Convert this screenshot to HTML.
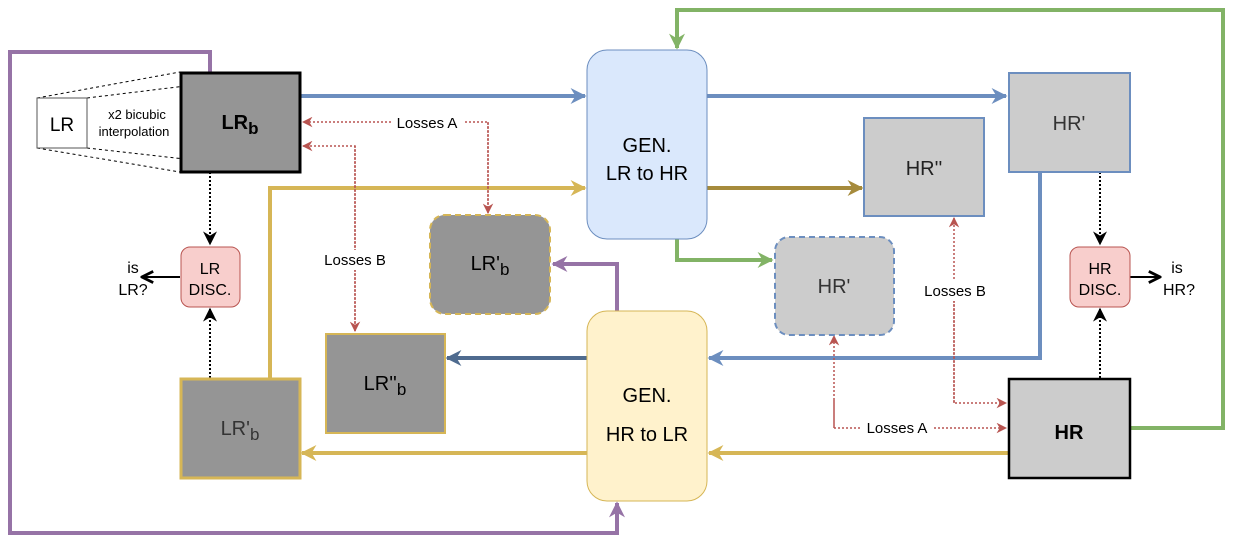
<!DOCTYPE html>
<html><head><meta charset="utf-8"><style>
html,body{margin:0;padding:0;background:#fff;}
svg{display:block;font-family:"Liberation Sans",Arial,sans-serif;}
</style></head><body>
<svg width="1236" height="546" viewBox="0 0 1236 546" xmlns="http://www.w3.org/2000/svg">
<defs>
<marker id="aB" viewBox="0 0 10 10" refX="9" refY="5" markerWidth="4" markerHeight="4" orient="auto"><path d="M0,0 L10,5 L0,10 L3,5 Z" fill="#6c8ebf"/></marker>
<marker id="aY" viewBox="0 0 10 10" refX="9" refY="5" markerWidth="4" markerHeight="4" orient="auto"><path d="M0,0 L10,5 L0,10 L3,5 Z" fill="#d6b656"/></marker>
<marker id="aO" viewBox="0 0 10 10" refX="9" refY="5" markerWidth="4" markerHeight="4" orient="auto"><path d="M0,0 L10,5 L0,10 L3,5 Z" fill="#a68b3c"/></marker>
<marker id="aG" viewBox="0 0 10 10" refX="9" refY="5" markerWidth="4" markerHeight="4" orient="auto"><path d="M0,0 L10,5 L0,10 L3,5 Z" fill="#82b366"/></marker>
<marker id="aP" viewBox="0 0 10 10" refX="9" refY="5" markerWidth="4" markerHeight="4" orient="auto"><path d="M0,0 L10,5 L0,10 L3,5 Z" fill="#9673a6"/></marker>
<marker id="aD" viewBox="0 0 10 10" refX="9" refY="5" markerWidth="4" markerHeight="4" orient="auto"><path d="M0,0 L10,5 L0,10 L3,5 Z" fill="#4f6b8f"/></marker>
<marker id="aR" viewBox="0 0 10 10" refX="9" refY="5" markerWidth="7" markerHeight="7" orient="auto"><path d="M0,0 L10,5 L0,10 L3,5 Z" fill="#b85450"/></marker>
<marker id="aK" viewBox="0 0 10 10" refX="9" refY="5" markerWidth="7" markerHeight="7" orient="auto"><path d="M0,0 L10,5 L0,10 L3,5 Z" fill="#000"/></marker>
<marker id="aK2" viewBox="0 0 10 10" refX="9" refY="5" markerWidth="7" markerHeight="7" orient="auto"><path d="M1,1 L9,5 L1,9" fill="none" stroke="#000" stroke-width="2"/></marker>
</defs>

<!-- purple loop -->
<polyline points="210,72 210,52 10,52 10,533 617,533 617,503" fill="none" stroke="#9673a6" stroke-width="4" marker-end="url(#aP)"/>
<polyline points="617,311 617,264 553,264" fill="none" stroke="#9673a6" stroke-width="4" marker-end="url(#aP)"/>
<!-- green loop -->
<polyline points="1130,428 1223,428 1223,10 677,10 677,48" fill="none" stroke="#82b366" stroke-width="4" marker-end="url(#aG)"/>
<polyline points="677,238 677,260 772,260" fill="none" stroke="#82b366" stroke-width="4" marker-end="url(#aG)"/>

<!-- dashed projection lines -->
<g stroke="#000" stroke-width="1" stroke-dasharray="3,3">
<line x1="37" y1="98" x2="180" y2="72"/>
<line x1="87" y1="98" x2="300" y2="72"/>
<line x1="37" y1="148" x2="180" y2="172"/>
<line x1="87" y1="148" x2="300" y2="172"/>
</g>
<rect x="37" y="98" width="50" height="50" fill="#fff" stroke="#555" stroke-width="1"/>
<text x="62" y="131" font-size="19" text-anchor="middle">LR</text>
<text x="137" y="119" font-size="13" text-anchor="middle">x2 bicubic</text>
<text x="134" y="136" font-size="13" text-anchor="middle">interpolation</text>

<!-- blue arrows -->
<line x1="300" y1="96" x2="585" y2="96" stroke="#6c8ebf" stroke-width="4" marker-end="url(#aB)"/>
<line x1="707" y1="96" x2="1006" y2="96" stroke="#6c8ebf" stroke-width="4" marker-end="url(#aB)"/>
<polyline points="1040,172 1040,358 709,358" fill="none" stroke="#6c8ebf" stroke-width="4" marker-end="url(#aB)"/>
<line x1="587" y1="358" x2="447" y2="358" stroke="#4f6b8f" stroke-width="4" marker-end="url(#aD)"/>
<!-- yellow -->
<polyline points="270,378 270,188 585,188" fill="none" stroke="#d6b656" stroke-width="4" marker-end="url(#aY)"/>
<line x1="587" y1="453" x2="302" y2="453" stroke="#d6b656" stroke-width="4" marker-end="url(#aY)"/>
<line x1="1008" y1="453" x2="709" y2="453" stroke="#d6b656" stroke-width="4" marker-end="url(#aY)"/>
<line x1="707" y1="188" x2="862" y2="188" stroke="#a68b3c" stroke-width="4" marker-end="url(#aO)"/>

<!-- black dotted -->
<g stroke="#000" stroke-width="2" stroke-dasharray="2,2" fill="none">
<line x1="210" y1="172" x2="210" y2="244" marker-end="url(#aK)"/>
<line x1="210" y1="378" x2="210" y2="309" marker-end="url(#aK)"/>
<line x1="1100" y1="172" x2="1100" y2="244" marker-end="url(#aK)"/>
<line x1="1100" y1="378" x2="1100" y2="309" marker-end="url(#aK)"/>
</g>
<line x1="180" y1="277" x2="142" y2="277" stroke="#000" stroke-width="2" marker-end="url(#aK2)"/>
<line x1="1130" y1="277" x2="1160" y2="277" stroke="#000" stroke-width="2" marker-end="url(#aK2)"/>

<!-- red dotted losses -->
<g stroke="#b85450" stroke-width="1.5" stroke-dasharray="2,2" fill="none">
<polyline points="488,213 488,122 303,122" marker-end="url(#aR)"/>
<polyline points="355,331 355,146 303,146" marker-end="url(#aR)"/>
<polyline points="954,403 954,218" marker-end="url(#aR)"/>
<polyline points="954,300 954,403 1006,403" marker-end="url(#aR)"/>
<polyline points="834,428 834,336" marker-end="url(#aR)"/>
<polyline points="834,400 834,428 1006,428" marker-end="url(#aR)"/>
<polyline points="488,122 488,213" marker-end="url(#aR)"/>
<polyline points="355,146 355,331" marker-end="url(#aR)"/>
</g>
<g font-size="15" text-anchor="middle">
<rect x="391" y="113" width="72" height="18" fill="#fff"/>
<text x="427" y="128">Losses A</text>
<rect x="317" y="250" width="76" height="20" fill="#fff"/>
<text x="355" y="265">Losses B</text>
<rect x="917" y="281" width="76" height="20" fill="#fff"/>
<text x="955" y="296">Losses B</text>
<rect x="860" y="419" width="74" height="18" fill="#fff"/>
<text x="897" y="433">Losses A</text>
</g>

<!-- boxes -->
<rect x="181" y="73" width="119" height="99" fill="#959595" stroke="#000" stroke-width="3"/>
<text x="240" y="129" font-size="20" font-weight="bold" text-anchor="middle">LR<tspan font-size="17" dy="5">b</tspan></text>
<rect x="181" y="379" width="119" height="99" fill="#959595" stroke="#d6b656" stroke-width="3"/>
<text x="240" y="435" font-size="20" fill="#333" text-anchor="middle">LR'<tspan font-size="17" dy="5">b</tspan></text>
<rect x="181" y="247" width="59" height="60" rx="9" fill="#f8cecc" stroke="#b85450" stroke-width="1"/>
<text x="210" y="274" font-size="16" text-anchor="middle">LR</text>
<text x="210" y="295" font-size="16" text-anchor="middle">DISC.</text>
<text x="133" y="273" font-size="16" text-anchor="middle">is</text>
<text x="133" y="295" font-size="16" text-anchor="middle">LR?</text>

<rect x="430" y="215" width="120" height="99" rx="15" fill="#959595" stroke="#d6b656" stroke-width="2" stroke-dasharray="6,4"/>
<text x="490" y="270" font-size="20" text-anchor="middle">LR'<tspan font-size="17" dy="5">b</tspan></text>
<rect x="326" y="334" width="119" height="99" fill="#959595" stroke="#d6b656" stroke-width="2"/>
<text x="385" y="390" font-size="20" text-anchor="middle">LR''<tspan font-size="17" dy="5">b</tspan></text>

<rect x="587" y="50" width="120" height="189" rx="20" fill="#dae8fc" stroke="#6c8ebf" stroke-width="1"/>
<text x="647" y="152" font-size="20" text-anchor="middle">GEN.</text>
<text x="647" y="180" font-size="20" text-anchor="middle">LR to HR</text>
<rect x="587" y="311" width="120" height="190" rx="20" fill="#fff2cc" stroke="#d6b656" stroke-width="1"/>
<text x="647" y="402" font-size="20" text-anchor="middle">GEN.</text>
<text x="647" y="441" font-size="20" text-anchor="middle">HR to LR</text>

<rect x="864" y="118" width="120" height="98" fill="#cccccc" stroke="#6c8ebf" stroke-width="2"/>
<text x="924" y="175" font-size="20" fill="#222" text-anchor="middle">HR''</text>
<rect x="1009" y="73" width="121" height="99" fill="#cccccc" stroke="#6c8ebf" stroke-width="2"/>
<text x="1069" y="130" font-size="20" fill="#333" text-anchor="middle">HR'</text>
<rect x="775" y="237" width="119" height="98" rx="14" fill="#cccccc" stroke="#6c8ebf" stroke-width="2" stroke-dasharray="6,4"/>
<text x="834" y="293" font-size="20" fill="#333" text-anchor="middle">HR'</text>
<rect x="1009" y="379" width="121" height="99" fill="#cccccc" stroke="#000" stroke-width="2.5"/>
<text x="1069" y="439" font-size="20" font-weight="bold" text-anchor="middle">HR</text>
<rect x="1070" y="247" width="60" height="60" rx="9" fill="#f8cecc" stroke="#b85450" stroke-width="1"/>
<text x="1100" y="274" font-size="16" text-anchor="middle">HR</text>
<text x="1100" y="295" font-size="16" text-anchor="middle">DISC.</text>
<text x="1177" y="273" font-size="16" text-anchor="middle">is</text>
<text x="1179" y="295" font-size="16" text-anchor="middle">HR?</text>
</svg>
</body></html>
